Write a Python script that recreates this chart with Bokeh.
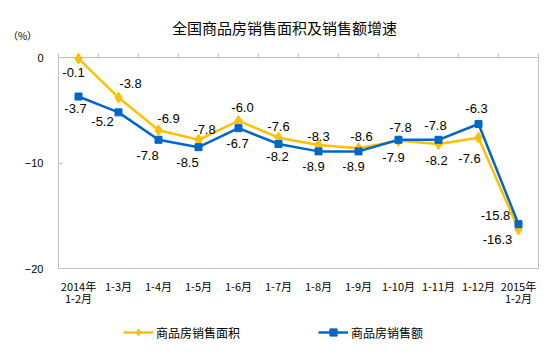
from bokeh.plotting import figure
from bokeh.models import (Range1d, LinearAxis, FixedTicker, Legend, LegendItem,
                          Label, ColumnDataSource)
from bokeh.embed import file_html
from bokeh.resources import INLINE
from bokeh.core.properties import value

# ---- data ----
categories = ["2014年\n1-2月", "1-3月", "1-4月", "1-5月", "1-6月", "1-7月", "1-8月",
              "1-9月", "1-10月", "1-11月", "1-12月", "2015年\n1-2月"]
area_growth = [-0.1, -3.8, -6.9, -7.8, -6.0, -7.6, -8.3, -8.6, -7.9, -8.2, -7.6, -16.3]
amount_growth = [-3.7, -5.2, -7.8, -8.5, -6.7, -8.2, -8.9, -8.9, -7.8, -7.8, -6.3, -15.8]
y_ticks = [-20, -10, 0]
series_names = ["商品房销售面积", "商品房销售额"]
title_text = "全国商品房销售面积及销售额增速"
unit_text = "（%）"

# ---- label placement (screen pixel offsets, y downward) ----
area_dx = [-5, 12, 10, 6, 4, 0, 0, 3, -5, -2, -9, -21]
area_dy = [14, -14, -12, -10, -13, -11, -9, -12, 17, 16, 21, 10]
amount_dx = [-3, -16, -11, -11, -1, -1, -5, -5, 2, -3, -2, -23]
amount_dy = [12, 9, 16, 15, 15, 12, 15, 15, -12, -14, -15, -9]

YELLOW = "#FFC000"
BLUE = "#0066CC"
GREY = "#BFBFBF"
CJK = "Noto Sans CJK SC"
LAT = "Liberation Sans"

W, H = 554, 353
n = len(categories)
xpos = [i + 0.5 for i in range(n)]  # category centres on a 0..n axis
y_lo, y_hi = min(y_ticks), max(y_ticks)

# plotting box inside the canvas (pixels): left 58, right 538, top 57, bottom 268
px_per_x = (538 - 58) / n
px_per_y = (268 - 57) / (y_hi - y_lo)
x_range = Range1d(-58 / px_per_x, n + (W - 538) / px_per_x)
y_range = Range1d(y_lo - (H - 268) / px_per_y, y_hi + 57 / px_per_y)

p = figure(x_range=x_range, y_range=y_range, width=W, height=H,
           output_backend="svg", toolbar_location=None,
           min_border=0, min_border_left=0, min_border_right=0,
           min_border_top=0, min_border_bottom=0,
           x_axis_location=None, y_axis_location=None)
p.title.visible = False
p.background_fill_color = "white"
p.border_fill_color = "white"
p.outline_line_color = None
p.xgrid.visible = False
p.ygrid.visible = False

# bottom category axis (box bottom edge + labels)
xa = LinearAxis(fixed_location=y_lo, bounds=(0, n), ticker=FixedTicker(ticks=xpos))
xa.major_label_overrides = {x: c for x, c in zip(xpos, categories)}
xa.axis_line_color = GREY
xa.major_tick_line_color = None
xa.minor_tick_line_color = None
xa.major_tick_out = 0
xa.major_tick_in = 0
xa.major_label_standoff = 9
xa.major_label_text_font = CJK
xa.major_label_text_font_size = "11px"
xa.major_label_text_line_height = 0.8
xa.major_label_text_color = "black"
p.add_layout(xa, "below")

# top axis line at 0 with ticks between categories
top = LinearAxis(fixed_location=y_hi, bounds=(0, n),
                 ticker=FixedTicker(ticks=list(range(n + 1))))
top.axis_line_color = GREY
top.major_tick_line_color = GREY
top.major_tick_in = 0
top.major_tick_out = 4
top.minor_tick_line_color = None
top.major_label_text_font_size = "0px"
top.major_label_text_color = None
top.major_label_standoff = 0
p.add_layout(top, "above")

# left value axis
ya = LinearAxis(fixed_location=0, bounds=(y_lo, y_hi), ticker=FixedTicker(ticks=y_ticks))
ya.axis_line_color = GREY
ya.major_tick_line_color = GREY
ya.major_tick_in = 4
ya.major_tick_out = 0
ya.minor_tick_line_color = None
ya.major_label_standoff = 15
ya.major_label_text_font = LAT
ya.major_label_text_font_size = "11px"
ya.major_label_text_color = "black"
p.add_layout(ya, "left")

# right edge of the box
ra = LinearAxis(fixed_location=n, bounds=(y_lo, y_hi), ticker=FixedTicker(ticks=[]))
ra.axis_line_color = GREY
ra.major_tick_line_color = None
ra.minor_tick_line_color = None
ra.major_label_text_font_size = "0px"
p.add_layout(ra, "right")

src = ColumnDataSource(dict(x=xpos, area=area_growth, amount=amount_growth,
                            area_txt=[f"{v:.1f}" for v in area_growth],
                            amount_txt=[f"{v:.1f}" for v in amount_growth],
                            adx=area_dx, ady=area_dy, mdx=amount_dx, mdy=amount_dy))

la = p.line("x", "area", source=src, line_color=YELLOW, line_width=2.5)
sa = p.scatter("x", "area", source=src, marker="diamond", size=11,
               fill_color=YELLOW, line_color=YELLOW)
lm = p.line("x", "amount", source=src, line_color=BLUE, line_width=2.5)
sm = p.scatter("x", "amount", source=src, marker="square", size=7,
               fill_color=BLUE, line_color=BLUE)

p.text("x", "area", text="area_txt", source=src, x_offset="adx", y_offset="ady",
       text_align="center", text_baseline="middle", text_font=value(LAT),
       text_font_size="13px", text_color="black")
p.text("x", "amount", text="amount_txt", source=src, x_offset="mdx", y_offset="mdy",
       text_align="center", text_baseline="middle", text_font=value(LAT),
       text_font_size="13px", text_color="black")

# title and unit (screen pixels from the bottom-left corner)
p.add_layout(Label(x=284, y=H - 27, x_units="screen", y_units="screen",
                   text=title_text, text_align="center", text_baseline="middle",
                   text_font=CJK, text_font_size="15px", text_color="black"))
p.add_layout(Label(x=22, y=H - 35, x_units="screen", y_units="screen",
                   text=unit_text, text_align="center", text_baseline="middle",
                   text_font=CJK, text_font_size="10px", text_color="black"))

legend = Legend(items=[LegendItem(label=series_names[0], renderers=[la, sa]),
                       LegendItem(label=series_names[1], renderers=[lm, sm])],
                orientation="horizontal", location=(123, 12),
                border_line_color=None, background_fill_alpha=0,
                glyph_width=30, glyph_height=18, label_height=18,
                spacing=78, padding=0, margin=0,
                label_standoff=3, label_text_font=CJK, label_text_font_size="12px",
                label_text_color="black")
p.add_layout(legend, "center")

open("out.html", "w").write(file_html(p, INLINE))
